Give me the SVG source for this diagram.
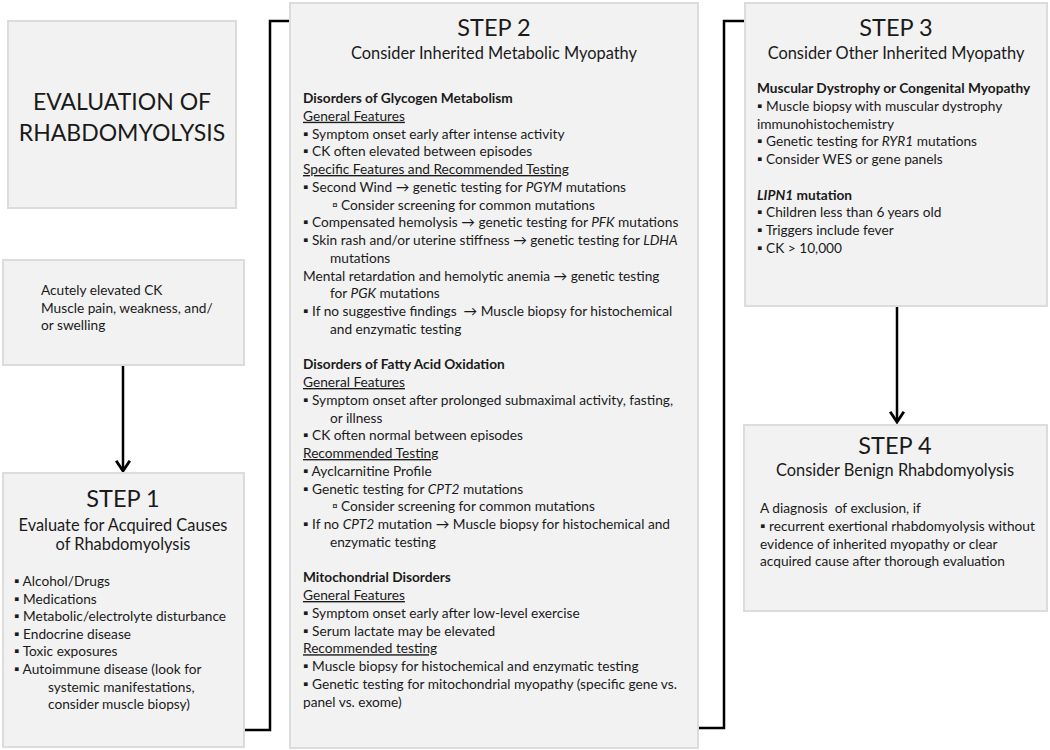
<svg xmlns="http://www.w3.org/2000/svg" width="1050" height="750" viewBox="0 0 1050 750">
<defs>
<style>
.box{fill:#f2f2f2;stroke:#dcdcdc;stroke-width:2}
text{font-family:Lato,"Liberation Sans",sans-serif;fill:#1a1a1a;font-size:13.7px}
.big{font-size:23px}
.step{font-size:23.5px;text-anchor:middle}
.sub{font-size:16.4px;text-anchor:middle}
.b{font-weight:bold}
.u{text-decoration:underline}
.i{font-style:italic}
.conn{fill:none;stroke:#000;stroke-width:2.5}
</style>
<marker id="arr" markerUnits="userSpaceOnUse" markerWidth="16" markerHeight="16" refX="11" refY="7" orient="auto" viewBox="0 0 14 14">
<path d="M2,1 L11,7 L2,13" fill="none" stroke="#000" stroke-width="2.5"/>
</marker>
</defs>

<g id="connectors">
<line class="conn" x1="123" y1="366" x2="123" y2="471" marker-end="url(#arr)"/>
<polyline class="conn" points="244,730 270,730 270,21 329,21" marker-end="url(#arr)"/>
<polyline class="conn" points="698,728 724,728 724,21 784,21" marker-end="url(#arr)"/>
<line class="conn" x1="897" y1="307" x2="897" y2="422" marker-end="url(#arr)"/>
</g>

<g id="title">
<rect class="box" x="8" y="21" width="228" height="187"/>
<text class="big" x="122" y="110" text-anchor="middle">EVALUATION OF</text>
<text class="big" x="122" y="141" text-anchor="middle">RHABDOMYOLYSIS</text>
</g>

<g id="presentation">
<rect class="box" x="3" y="260" width="241" height="105"/>
<text x="41" y="295">Acutely elevated CK</text>
<text x="41" y="313">Muscle pain, weakness, and/</text>
<text x="41" y="330">or swelling</text>
</g>

<g id="step1">
<rect class="box" x="3" y="473" width="241" height="274"/>
<text class="step" x="123" y="507">STEP 1</text>
<text class="sub" x="123" y="531">Evaluate for Acquired Causes</text>
<text class="sub" x="123" y="550">of Rhabdomyolysis</text>
<text x="14" y="586">▪ Alcohol/Drugs</text>
<text x="14" y="603.6">▪ Medications</text>
<text x="14" y="621.2">▪ Metabolic/electrolyte disturbance</text>
<text x="14" y="638.8">▪ Endocrine disease</text>
<text x="14" y="656.4">▪ Toxic exposures</text>
<text x="14" y="674">▪ Autoimmune disease (look for</text>
<text x="48" y="691.6">systemic manifestations,</text>
<text x="48" y="709.2">consider muscle biopsy)</text>
</g>

<g id="step2">
<rect class="box" x="290" y="3" width="408" height="745"/>
<text class="step" x="494" y="36">STEP 2</text>
<text class="sub" x="494" y="59">Consider Inherited Metabolic Myopathy</text>
<text class="b" x="303" y="103">Disorders of Glycogen Metabolism</text>
<text class="u" x="303" y="120.75">General Features</text>
<text x="303" y="138.5">▪ Symptom onset early after intense activity</text>
<text x="303" y="156.25">▪ CK often elevated between episodes</text>
<text class="u" x="303" y="174">Specific Features and Recommended Testing</text>
<text x="303" y="191.75">▪ Second Wind → genetic testing for <tspan class="i">PGYM</tspan> mutations</text>
<text x="332" y="209.5">▫ Consider screening for common mutations</text>
<text x="303" y="227.25">▪ Compensated hemolysis → genetic testing for <tspan class="i">PFK</tspan> mutations</text>
<text x="303" y="245">▪ Skin rash and/or uterine stiffness → genetic testing for <tspan class="i">LDHA</tspan></text>
<text x="330" y="262.75">mutations</text>
<text x="303" y="280.5">Mental retardation and hemolytic anemia → genetic testing</text>
<text x="330" y="298.25">for <tspan class="i">PGK</tspan> mutations</text>
<text x="303" y="316" xml:space="preserve">▪ If no suggestive findings  → Muscle biopsy for histochemical</text>
<text x="330" y="333.75">and enzymatic testing</text>
<text class="b" x="303" y="369.25">Disorders of Fatty Acid Oxidation</text>
<text class="u" x="303" y="387">General Features</text>
<text x="303" y="404.75">▪ Symptom onset after prolonged submaximal activity, fasting,</text>
<text x="330" y="422.5">or illness</text>
<text x="303" y="440.25">▪ CK often normal between episodes</text>
<text class="u" x="303" y="458">Recommended Testing</text>
<text x="303" y="475.75">▪ Ayclcarnitine Profile</text>
<text x="303" y="493.5">▪ Genetic testing for <tspan class="i">CPT2</tspan> mutations</text>
<text x="332" y="511.25">▫ Consider screening for common mutations</text>
<text x="303" y="529">▪ If no <tspan class="i">CPT2</tspan> mutation → Muscle biopsy for histochemical and</text>
<text x="330" y="546.75">enzymatic testing</text>
<text class="b" x="303" y="582.25">Mitochondrial Disorders</text>
<text class="u" x="303" y="600">General Features</text>
<text x="303" y="617.75">▪ Symptom onset early after low-level exercise</text>
<text x="303" y="635.5">▪ Serum lactate may be elevated</text>
<text class="u" x="303" y="653.25">Recommended testing</text>
<text x="303" y="671">▪ Muscle biopsy for histochemical and enzymatic testing</text>
<text x="303" y="688.75">▪ Genetic testing for mitochondrial myopathy (specific gene vs.</text>
<text x="303" y="706.5">panel vs. exome)</text>
</g>

<g id="step3">
<rect class="box" x="745" y="3" width="302" height="303"/>
<text class="step" x="896" y="36">STEP 3</text>
<text class="sub" x="896" y="59">Consider Other Inherited Myopathy</text>
<text class="b" x="757" y="93">Muscular Dystrophy or Congenital Myopathy</text>
<text x="757" y="110.75">▪ Muscle biopsy with muscular dystrophy</text>
<text x="757" y="128.5">immunohistochemistry</text>
<text x="757" y="146.25">▪ Genetic testing for <tspan class="i">RYR1</tspan> mutations</text>
<text x="757" y="164">▪ Consider WES or gene panels</text>
<text class="b" x="757" y="199.5"><tspan class="i">LIPN1</tspan> mutation</text>
<text x="757" y="217.25">▪ Children less than 6 years old</text>
<text x="757" y="235">▪ Triggers include fever</text>
<text x="757" y="252.75">▪ CK &gt; 10,000</text>
</g>

<g id="step4">
<rect class="box" x="744" y="425" width="303" height="186"/>
<text class="step" x="895" y="454">STEP 4</text>
<text class="sub" x="895" y="476">Consider Benign Rhabdomyolysis</text>
<text x="760" y="513" xml:space="preserve">A diagnosis  of exclusion, if</text>
<text x="760" y="530.75">▪ recurrent exertional rhabdomyolysis without</text>
<text x="760" y="548.5">evidence of inherited myopathy or clear</text>
<text x="760" y="566.25">acquired cause after thorough evaluation</text>
</g>
</svg>
